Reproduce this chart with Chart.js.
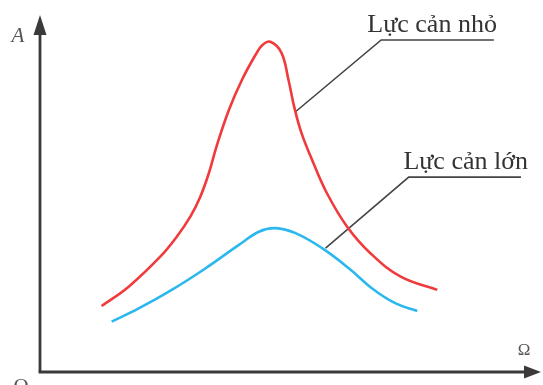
<!DOCTYPE html>
<html>
<head>
<meta charset="utf-8">
<script src="https://cdn.jsdelivr.net/npm/chart.js@4.4.1/dist/chart.umd.min.js"></script>
<style>
  html, body { margin: 0; padding: 0; background: #fff; }
  #wrap { width: 543px; height: 385px; position: relative; }
</style>
</head>
<body>
<div id="wrap"><canvas id="chart"></canvas></div>
<script>
// Ω (driving frequency) vs A (amplitude), arbitrary units 0..10
const smallDampX = [1.23, 1.77, 2.40, 2.73, 3.00, 3.20, 3.37, 3.52, 3.77, 4.03, 4.30, 4.44, 4.60, 4.82, 4.96, 5.08, 5.22, 5.44, 5.73, 6.13, 6.60, 7.20, 7.93];
const smallDampA = [1.85, 2.39, 3.23, 3.79, 4.35, 4.91, 5.57, 6.30, 7.34, 8.18, 8.88, 9.16, 9.25, 8.94, 8.18, 7.39, 6.69, 5.91, 5.00, 4.07, 3.32, 2.67, 2.30];

const largeDampX = [1.43, 1.97, 2.63, 3.30, 3.97, 4.37, 4.70, 5.10, 5.63, 6.17, 6.63, 7.10, 7.53];
const largeDampA = [1.41, 1.78, 2.30, 2.90, 3.56, 3.93, 4.03, 3.89, 3.47, 2.90, 2.34, 1.92, 1.71];

// leader lines: point on curve -> elbow -> end of underline
const smallLeaderX = [5.10, 6.81, 9.06];
const smallLeaderA = [7.29, 9.30, 9.30];
const largeLeaderX = [5.70, 7.36, 9.60];
const largeLeaderA = [3.47, 5.46, 5.46];

const labelTexts = ["Lực cản nhỏ", "Lực cản lớn"];
const axisTexts = { y: "A", x: "Ω", origin: "O" };

const toPoints = (xs, ys) => xs.map((x, i) => ({ x, y: ys[i] }));

const ink = "#3a3a3a";

const axesPlugin = {
  id: "arrowAxes",
  afterDatasetsDraw(chart) {
    const { ctx, chartArea: a, scales } = chart;
    ctx.save();
    ctx.strokeStyle = ink;
    ctx.fillStyle = ink;
    ctx.lineWidth = 2.8;

    // y axis + arrow
    ctx.beginPath();
    ctx.moveTo(a.left, a.bottom);
    ctx.lineTo(a.left, a.top + 16);
    ctx.stroke();
    ctx.beginPath();
    ctx.moveTo(a.left, a.top);
    ctx.lineTo(a.left - 6.5, a.top + 20);
    ctx.lineTo(a.left + 6.5, a.top + 20);
    ctx.closePath();
    ctx.fill();

    // x axis + arrow
    ctx.beginPath();
    ctx.moveTo(a.left - 1.4, a.bottom);
    ctx.lineTo(a.right - 14, a.bottom);
    ctx.stroke();
    ctx.beginPath();
    ctx.moveTo(a.right, a.bottom);
    ctx.lineTo(a.right - 17, a.bottom - 6.5);
    ctx.lineTo(a.right - 17, a.bottom + 6.5);
    ctx.closePath();
    ctx.fill();

    // axis letters
    ctx.fillStyle = "#555";
    ctx.textBaseline = "alphabetic";
    ctx.textAlign = "center";
    ctx.font = "italic 21px 'Liberation Serif'";
    ctx.fillText(axisTexts.y, a.left - 22, a.top + 27);
    ctx.font = "21px 'Liberation Serif'";
    ctx.fillText(axisTexts.origin, a.left - 19, a.bottom + 21);
    ctx.font = "17px 'Liberation Serif'";
    ctx.fillText(axisTexts.x, a.right - 17, a.bottom - 17);

    // curve labels, sitting on the leader underline
    ctx.fillStyle = "#333";
    ctx.font = "26px 'Liberation Serif'";
    ctx.textAlign = "right";
    const xs = scales.x, ys = scales.y;
    ctx.fillText(labelTexts[0], xs.getPixelForValue(smallLeaderX[2]) + 3, ys.getPixelForValue(smallLeaderA[2]) - 8);
    ctx.fillText(labelTexts[1], xs.getPixelForValue(largeLeaderX[2]) + 7, ys.getPixelForValue(largeLeaderA[2]) - 8);
    ctx.restore();
  }
};

const curveStyle = {
  showLine: true,
  pointRadius: 0,
  borderWidth: 2.6,
  fill: false,
  tension: 0.4
};

const leaderStyle = {
  showLine: true,
  pointRadius: 0,
  borderWidth: 1.6,
  borderColor: "#444",
  tension: 0,
  fill: false
};

new Chart(document.getElementById("chart"), {
  type: "scatter",
  data: {
    datasets: [
      { ...curveStyle, label: labelTexts[0], data: toPoints(smallDampX, smallDampA), borderColor: "#f03a3c" },
      { ...curveStyle, label: labelTexts[1], data: toPoints(largeDampX, largeDampA), borderColor: "#2cb8ee" },
      { ...leaderStyle, label: "leader1", data: toPoints(smallLeaderX, smallLeaderA) },
      { ...leaderStyle, label: "leader2", data: toPoints(largeLeaderX, largeLeaderA) }
    ]
  },
  options: {
    responsive: true,
    maintainAspectRatio: false,
    animation: false,
    layout: { padding: { left: 40, top: 15, right: 2, bottom: 13 } },
    plugins: {
      legend: { display: false },
      tooltip: { enabled: false }
    },
    scales: {
      x: { type: "linear", min: 0, max: 10, display: false },
      y: { type: "linear", min: 0, max: 10, display: false }
    }
  },
  plugins: [axesPlugin]
});
</script>
</body>
</html>
